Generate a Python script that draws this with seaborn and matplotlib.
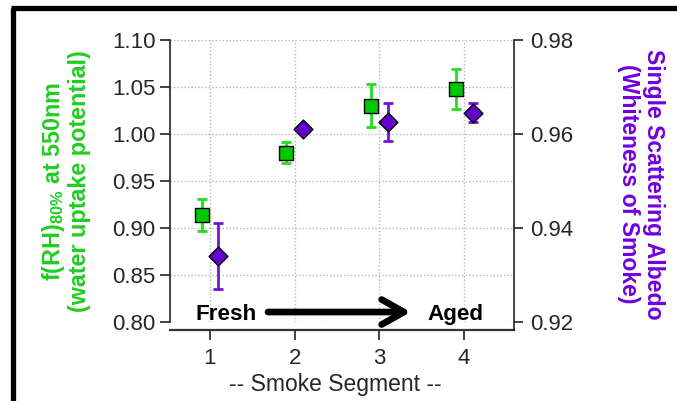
import numpy as np
import pandas as pd
import matplotlib
matplotlib.use("Agg")
import matplotlib.pyplot as plt
import seaborn as sns
from matplotlib.lines import Line2D
from matplotlib.ticker import FormatStrFormatter

# ---- data ----
segments = [1, 2, 3, 4]
frh = [0.914, 0.980, 1.030, 1.048]
frh_err = [0.017, 0.011, 0.023, 0.021]
ssa = [0.934, 0.9611, 0.9626, 0.9645]
ssa_err = [0.007, 0.0005, 0.004, 0.002]
left_ticks = [0.80, 0.85, 0.90, 0.95, 1.00, 1.05, 1.10]
right_ticks = [0.92, 0.94, 0.96, 0.98]
x_ticks = [1, 2, 3, 4]

sns.set_style("ticks")
plt.rcParams['font.family'] = ['Liberation Sans', 'DejaVu Sans']
plt.rcParams['mathtext.fontset'] = 'custom'
plt.rcParams['mathtext.rm'] = 'Liberation Sans'
plt.rcParams['mathtext.bf'] = 'Liberation Sans:bold'

GREEN = '#00C800'
GREEN_ERR = '#22DD22'
GREEN_TXT = '#22CC22'
PURPLE = '#6600CC'
PURPLE_ERR = '#7410E0'
PURPLE_TXT = '#7000DD'

df = pd.DataFrame({
    'segment': segments,
    'frh': frh, 'frh_err': frh_err,
    'ssa': ssa, 'ssa_err': ssa_err,
})
df['x_frh'] = df['segment'] - 0.1
df['x_ssa'] = df['segment'] + 0.1

fig = plt.figure(figsize=(6.77, 4.01), dpi=100)
ax = fig.add_axes([170/677, 79/401, 344/677, 282/401])
ax2 = ax.twinx()

# left axis series
ax.errorbar(df['x_frh'], df['frh'], yerr=df['frh_err'], fmt='none',
            ecolor=GREEN_ERR, elinewidth=2, capsize=3.5, capthick=2, zorder=2)
sns.scatterplot(data=df, x='x_frh', y='frh', marker='s', s=92, color=GREEN,
                edgecolor='black', linewidth=1, ax=ax, zorder=3, legend=False)

# right axis series
ax2.errorbar(df['x_ssa'], df['ssa'], yerr=df['ssa_err'], fmt='none',
             ecolor=PURPLE_ERR, elinewidth=2, capsize=3.5, capthick=2, zorder=2)
sns.scatterplot(data=df, x='x_ssa', y='ssa', marker='D', s=92, color=PURPLE,
                edgecolor='black', linewidth=1, ax=ax2, zorder=3, legend=False)

ax.set_xlim(0.528, 4.59)
ax.set_ylim(0.80, 1.10)
ax2.set_ylim(0.92, 0.98)
ax.set_xticks(x_ticks)
ax.set_yticks(left_ticks)
ax2.set_yticks(right_ticks)
ax.yaxis.set_major_formatter(FormatStrFormatter('%.2f'))
ax2.yaxis.set_major_formatter(FormatStrFormatter('%.2f'))

ax.grid(True, linestyle=(0, (1, 1.5)), color='#b8b8b8', linewidth=1)
ax2.grid(False)

for s in ['top', 'right']:
    ax.spines[s].set_visible(False)
for s in ['top', 'left', 'bottom']:
    ax2.spines[s].set_visible(False)
ax.spines['bottom'].set_position(('outward', 5.8))
ax.spines['bottom'].set_linewidth(1.6)
ax.spines['bottom'].set_color('#333333')
ax.spines['left'].set_linewidth(1.2)
ax.spines['left'].set_color('#222222')
ax2.spines['right'].set_linewidth(1.2)
ax2.spines['right'].set_color('#222222')
ax2.spines['right'].set_bounds(0.92 - 8/283*0.06, 0.98)

ax.tick_params(axis='y', length=7, width=1.2, pad=3.5, labelsize=16, color='#222222')
ax.tick_params(axis='x', length=7, width=1.2, pad=6, labelsize=16, color='#222222')
ax2.tick_params(axis='y', length=6.5, width=1.2, pad=5, labelsize=16, color='#222222')

ax.set_xlabel('-- Smoke Segment --', fontsize=16.5)
ax.xaxis.set_label_coords((335-170)/344, (17-79)/282)
ax.xaxis.label.set_va('center')

ax.set_ylabel('f(RH)$\\mathbf{_{80\\%}}$ at 550nm\n(water uptake potential)',
              fontsize=16.8, fontweight='bold', color=GREEN_TXT, linespacing=1.1)
ax.yaxis.set_label_coords((65.5-170)/344, 0.5)
ax.yaxis.label.set_va('center')
ax.yaxis.label.set_ha('center')

ax2.set_ylabel('Single Scattering Albedo\n(Whiteness of Smoke)', rotation=270,
               fontsize=16.6, fontweight='bold', color=PURPLE_TXT, linespacing=1.1)
ax2.yaxis.set_label_coords((641-170)/344, 0.49)
ax2.yaxis.label.set_va('center')
ax2.yaxis.label.set_ha('center')

# annotation: Fresh -> Aged
ax.text(1.195, 0.8021, 'Fresh', ha='center', va='baseline', fontsize=16.2,
        fontweight='bold', color='black')
ax.text(3.904, 0.8021, 'Aged', ha='center', va='baseline', fontsize=16.2,
        fontweight='bold', color='black')
ax.annotate('', xy=(3.37, 0.8106), xytext=(1.685, 0.8106),
            arrowprops=dict(arrowstyle='->, head_length=0.8, head_width=0.45',
                            lw=4.8, color='black', mutation_scale=20,
                            shrinkA=0, shrinkB=0))

# outer frame (left and top edges)
fig.add_artist(Line2D([12.5/677, 12.5/677], [0, 1 - 7.5/401], transform=fig.transFigure,
                      color='black', lw=3.8, solid_capstyle='butt'))
fig.add_artist(Line2D([10.5/677, 1], [1 - 7.5/401, 1 - 7.5/401], transform=fig.transFigure,
                      color='black', lw=3.8, solid_capstyle='butt'))

fig.savefig('out.png', dpi=100)
